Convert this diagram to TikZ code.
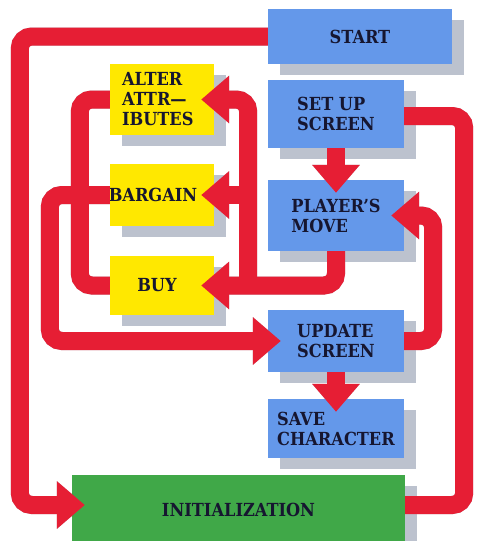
\documentclass[tikz,border=0pt]{standalone}
\usepackage{fontspec}
\setmainfont{DejaVu Serif Condensed}
\usepackage{xcolor}
\usepackage{tikz}
\usetikzlibrary{
  arrows.meta,
  shadows,
  backgrounds
}

\definecolor{flowred}{RGB}{230, 30, 52}
\definecolor{boxblue}{RGB}{100, 152, 234}
\definecolor{boxyellow}{RGB}{255, 232, 0}
\definecolor{boxgreen}{RGB}{64, 168, 72}
\definecolor{shadowgrey}{RGB}{188, 194, 206}
\definecolor{inkblue}{RGB}{22, 22, 48}

% all the red wires, drawn twice (shadow, then red)
\newcommand{\gamewires}[1]{%
  \draw[flow, flowtip, #1] (start.west) -- ++(-248,0) |- ([yshift=5pt]init.west);
  \draw[flow, #1] ([yshift=5pt]init.east) -- ++(59,0) |- ([yshift=-2pt]setup.east);
  \draw[flow, flowtip, #1] (setup.south) -- (player.north);
  \draw[flow, flowtip, #1] (player.south) |- (buy.east);
  \draw[flow, flowtip, #1] (fork) |- (alter.east);
  \draw[flow, flowtip, #1] (fork |- bargain.east) -- (bargain.east);
  \draw[flow, #1] (alter.west) -- ++(-30,0) |- (buy.west);
  \draw[flow, flowtip, #1] (bargain.west) -- ++(-60,0) |- (update.west);
  \draw[flow, flowtip, #1] (update.east) -- ++(29,0) |- (player.east);
  \draw[flow, flowtip, #1] (update.south) -- (save.north);
}

\begin{document}
\begin{tikzpicture}[
  x=1pt, y=-1pt,
  box/.style={
    minimum width=136pt, inner sep=0pt, align=left, text=inkblue,
    font=\bfseries\fontsize{18}{20}\selectfont,
    drop shadow={shadow xshift=12pt, shadow yshift=-11pt,
      fill=shadowgrey, opacity=1}
  },
  bluebox/.style={box, fill=boxblue},
  yellowbox/.style={box, fill=boxyellow, minimum width=104pt},
  nudge/.style={execute at begin node={\hspace*{-#1}}},
  flow/.style={line width=18pt, rounded corners=12pt},
  flowtip/.style={-{Triangle[length=28pt, width=46pt]}, shorten >=-13pt}
]
\useasboundingbox (0,0) rectangle (480,541);

\node[bluebox, minimum width=184pt, minimum height=55pt] (start) at (360,36.5) {START};
\node[bluebox, minimum height=68pt] (setup) at (336,114) {SET UP\\SCREEN};
\node[bluebox, minimum height=71pt] (player) at (336,215.5) {PLAYER'S\\MOVE};
\node[bluebox, minimum height=62pt] (update) at (336,341) {UPDATE\\SCREEN};
\node[bluebox, minimum height=59pt] (save) at (336,428.5) {SAVE\\CHARACTER};
\node[box, fill=boxgreen, minimum width=333pt, minimum height=70pt] (init) at (238.5,510) {INITIALIZATION};

\node[yellowbox, text width=80pt, minimum height=71pt] (alter) at (162,99.5) {ALTER\\ATTR—\\IBUTES};
\node[yellowbox, nudge=18pt, minimum height=62pt] (bargain) at (162,195) {BARGAIN};
\node[yellowbox, nudge=10pt, minimum height=59pt] (buy) at (162,285.5) {BUY};

\coordinate (fork) at ([xshift=34pt]buy.east);

\begin{scope}[on background layer]
  \fill[white] (0,0) rectangle (480,541);
\end{scope}
\begin{scope}[on background layer, transform canvas={xshift=8pt, yshift=-8pt}]
  \gamewires{draw=shadowgrey}
\end{scope}

\gamewires{draw=flowred}
\end{tikzpicture}
\end{document}
